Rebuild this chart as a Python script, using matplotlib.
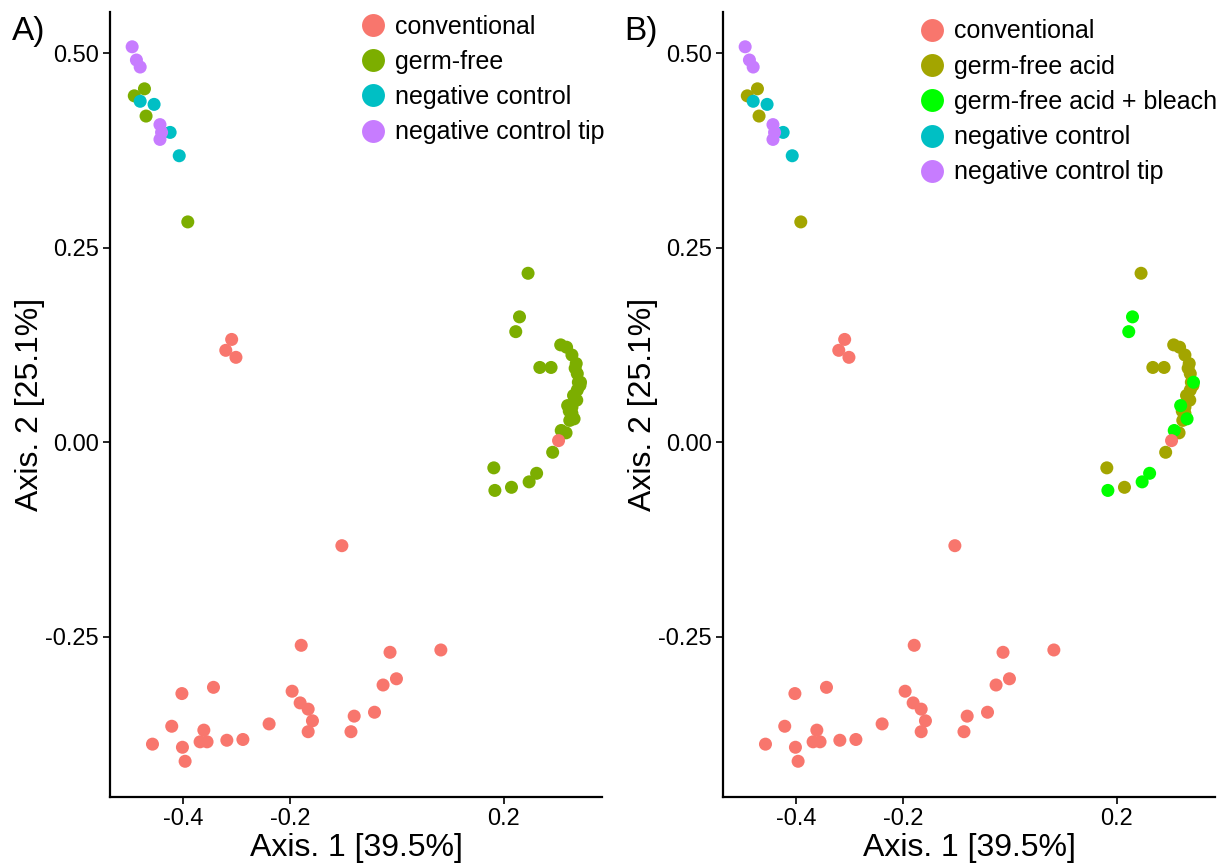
import matplotlib
matplotlib.use("Agg")
import matplotlib.pyplot as plt
from matplotlib.lines import Line2D

plt.rcParams['font.family'] = ['Liberation Sans', 'DejaVu Sans']

# PCoA coordinates
conv_x = [-0.309, -0.320, -0.301, -0.103, -0.179, -0.013, 0.082, -0.402, -0.343,
          -0.196, -0.181, -0.166, -0.158, -0.166, -0.001, -0.026, -0.042, -0.080,
          -0.086, -0.239, -0.288, -0.318, -0.361, -0.368, -0.355, -0.421, -0.457,
          -0.401, -0.396, 0.302]
conv_y = [0.132, 0.118, 0.109, -0.133, -0.261, -0.270, -0.267, -0.323, -0.315,
          -0.320, -0.335, -0.343, -0.358, -0.372, -0.304, -0.312, -0.347, -0.352,
          -0.372, -0.362, -0.382, -0.383, -0.370, -0.385, -0.385, -0.365, -0.388,
          -0.392, -0.410, 0.002]

gf_x = [-0.472, -0.491, -0.469, -0.391, 0.245, 0.229, 0.222, 0.267, 0.288,
        0.306, 0.317, 0.327, 0.335, 0.333, 0.337, 0.339, 0.343, 0.342, 0.337,
        0.330, 0.336, 0.327, 0.319, 0.322, 0.327, 0.331, 0.323, 0.307, 0.316,
        0.291, 0.181, 0.261, 0.247, 0.214, 0.183]
gf_y = [0.454, 0.445, 0.419, 0.283, 0.217, 0.161, 0.142, 0.096, 0.096,
        0.125, 0.122, 0.112, 0.101, 0.095, 0.088, 0.077, 0.077, 0.073, 0.067,
        0.060, 0.054, 0.045, 0.047, 0.040, 0.037, 0.030, 0.028, 0.015, 0.012,
        -0.013, -0.033, -0.040, -0.051, -0.058, -0.062]
gf_treat = ['acid', 'acid', 'acid', 'acid', 'acid', 'bleach', 'bleach', 'acid', 'acid',
            'acid', 'acid', 'acid', 'acid', 'acid', 'acid', 'acid', 'bleach', 'acid', 'acid',
            'acid', 'acid', 'acid', 'bleach', 'acid', 'acid', 'bleach', 'acid', 'bleach', 'acid',
            'acid', 'acid', 'bleach', 'bleach', 'acid', 'bleach']

neg_x = [-0.480, -0.454, -0.424, -0.407]
neg_y = [0.438, 0.434, 0.398, 0.368]

tip_x = [-0.495, -0.487, -0.480, -0.443, -0.440, -0.443]
tip_y = [0.508, 0.491, 0.482, 0.408, 0.398, 0.389]

col_conv = '#F8766D'
col_gf = '#7CAE00'
col_acid = '#A3A500'
col_bleach = '#00FF00'
col_neg = '#00BFC4'
col_tip = '#C77CFF'

xticks = [-0.4, -0.2, 0.2]
yticks = [0.50, 0.25, 0.00, -0.25]

fig = plt.figure(figsize=(12.25, 8.65), dpi=100)
axA = fig.add_axes([110 / 1225, 68 / 865, 492 / 1225, 785 / 865])
axB = fig.add_axes([723 / 1225, 68 / 865, 492 / 1225, 785 / 865])

S = 88


def style_axis(ax):
    ax.set_xlim(-0.5364, 0.3832)
    ax.set_ylim(-0.4559, 0.5527)
    for side in ['top', 'right']:
        ax.spines[side].set_visible(False)
    for side in ['left', 'bottom']:
        ax.spines[side].set_linewidth(1.6)
    ax.set_xticks(xticks)
    ax.set_xticklabels([f"{v:.1f}" for v in xticks])
    ax.set_yticks(yticks)
    ax.set_yticklabels([f"{v:.2f}" for v in yticks])
    ax.tick_params(labelsize=17, length=5, width=1.2, pad=3)
    ax.set_xlabel('Axis. 1 [39.5%]', fontsize=23, labelpad=2)
    ax.set_ylabel('Axis. 2 [25.1%]', fontsize=23, labelpad=0.5)


def handle(color):
    return Line2D([], [], marker='o', linestyle='', markersize=16.5,
                  markerfacecolor=color, markeredgecolor='none')


leg_kw = dict(loc='upper left', bbox_transform=fig.transFigure, frameon=False,
              fontsize=18, handletextpad=0.3, labelspacing=0.45, borderpad=0,
              handlelength=1.2)

# Panel A
axA.scatter(gf_x, gf_y, s=S, color=col_gf, edgecolors='none')
axA.scatter(conv_x, conv_y, s=S, color=col_conv, edgecolors='none')
axA.scatter(neg_x, neg_y, s=S, color=col_neg, edgecolors='none')
axA.scatter(tip_x, tip_y, s=S, color=col_tip, edgecolors='none')
style_axis(axA)
axA.legend([handle(col_conv), handle(col_gf), handle(col_neg), handle(col_tip)],
           ['conventional', 'germ-free', 'negative control', 'negative control tip'],
           bbox_to_anchor=(345 / 1225, 1 - 2 / 865), **leg_kw)
fig.text(12 / 1225, 1 - 40 / 865, 'A)', fontsize=24)

# Panel B
acid_x = [x for x, t in zip(gf_x, gf_treat) if t == 'acid']
acid_y = [y for y, t in zip(gf_y, gf_treat) if t == 'acid']
bl_x = [x for x, t in zip(gf_x, gf_treat) if t == 'bleach']
bl_y = [y for y, t in zip(gf_y, gf_treat) if t == 'bleach']
axB.scatter(acid_x, acid_y, s=S, color=col_acid, edgecolors='none')
axB.scatter(bl_x, bl_y, s=S, color=col_bleach, edgecolors='none')
axB.scatter(conv_x, conv_y, s=S, color=col_conv, edgecolors='none')
axB.scatter(neg_x, neg_y, s=S, color=col_neg, edgecolors='none')
axB.scatter(tip_x, tip_y, s=S, color=col_tip, edgecolors='none')
style_axis(axB)
axB.legend([handle(col_conv), handle(col_acid), handle(col_bleach), handle(col_neg), handle(col_tip)],
           ['conventional', 'germ-free acid', 'germ-free acid + bleach',
            'negative control', 'negative control tip'],
           bbox_to_anchor=(904 / 1225, 1 - 7 / 865), **leg_kw)
fig.text(624 / 1225, 1 - 40 / 865, 'B)', fontsize=24)

fig.savefig('out.png', dpi=100)
